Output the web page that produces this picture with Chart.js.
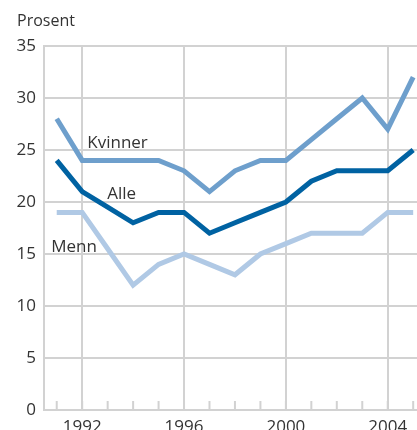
<!DOCTYPE html>
<html><head><meta charset="utf-8">
<script src="https://cdn.jsdelivr.net/npm/chart.js@4/dist/chart.umd.min.js"></script>
<style>html,body{margin:0;padding:0;background:#fff}#wrap{width:417px;height:430px}</style>
</head><body><div id="wrap"><canvas id="c" width="417" height="430"></canvas></div>
<script>
const years = [1991,1992,1993,1994,1995,1996,1997,1998,1999,2000,2001,2002,2003,2004,2005];
const kvinner = [28,24,24,24,24,23,21,23,24,24,26,28,30,27,32];
const alle    = [24,21,19.5,18,19,19,17,18,19,20,22,23,23,23,25];
const menn    = [19,19,15.5,12,14,15,14,13,15,16,17,17,17,19,19];
const xTickLabels = [1992,1996,2000,2004];
const yTicks = [0,5,10,15,20,25,30,35];
const seriesLabels = [
  {text:'Kvinner', x:1992.2, y:25.7},
  {text:'Alle', x:1992.98, y:20.8},
  {text:'Menn', x:1990.78, y:15.7}
];
const FONT = '"Open Sans", sans-serif';
const TEXT = '#333333';
const GRID = '#d2d2d2';

const pts = arr => arr.map((v,i)=>({x:years[i], y:v}));

const extras = {
  id:'extras',
  afterDatasetsDraw(chart){
    const {ctx, scales:{x,y}, chartArea} = chart;
    ctx.save();
    ctx.strokeStyle = GRID; ctx.lineWidth = 2;
    years.forEach(yr=>{
      const px = x.getPixelForValue(yr);
      ctx.beginPath(); ctx.moveTo(px, chartArea.bottom); ctx.lineTo(px, chartArea.bottom-9); ctx.stroke();
    });
    ctx.fillStyle = TEXT; ctx.font = '17px ' + FONT; ctx.textBaseline='middle'; ctx.textAlign='left';
    seriesLabels.forEach(l=>{
      ctx.fillText(l.text, x.getPixelForValue(l.x), y.getPixelForValue(l.y));
    });
    ctx.font = '16px ' + FONT;
    ctx.fillText('Prosent', 17, 21);
    ctx.restore();
  }
};

new Chart(document.getElementById('c'), {
  type:'line',
  data:{datasets:[
    {label:'Menn', data:pts(menn), borderColor:'#b0c9e5', borderWidth:5, pointRadius:0, tension:0, borderJoinStyle:'miter'},
    {label:'Kvinner', data:pts(kvinner), borderColor:'#6e9fcc', borderWidth:5, pointRadius:0, tension:0, borderJoinStyle:'miter'},
    {label:'Alle', data:pts(alle), borderColor:'#0062a2', borderWidth:5, pointRadius:0, tension:0, borderJoinStyle:'miter'}
  ]},
  options:{
    responsive:false, animation:false, clip:false,
    layout:{padding:{top:46, right:0, left:0, bottom:0}},
    plugins:{legend:{display:false}, tooltip:{enabled:false}},
    scales:{
      x:{type:'linear', min:1990.5, max:2005.15,
        afterBuildTicks(s){ s.ticks = xTickLabels.map(v=>({value:v})); },
        afterFit(s){ s.height = 20; },
        grid:{color:GRID, lineWidth:2, drawTicks:false},
        border:{color:GRID, width:2},
        ticks:{color:TEXT, font:{family:'Open Sans', size:17}, padding:7, maxRotation:0, autoSkip:false, callback:v=>String(v)}
      },
      y:{min:0, max:35,
        afterBuildTicks(s){ s.ticks = yTicks.map(v=>({value:v})); },
        afterFit(s){ s.width = 44; },
        grid:{color:GRID, lineWidth:2, drawTicks:false},
        border:{color:GRID, width:2},
        ticks:{color:TEXT, font:{family:'Open Sans', size:17}, padding:8}
      }
    }
  },
  plugins:[extras]
});
</script></body></html>
